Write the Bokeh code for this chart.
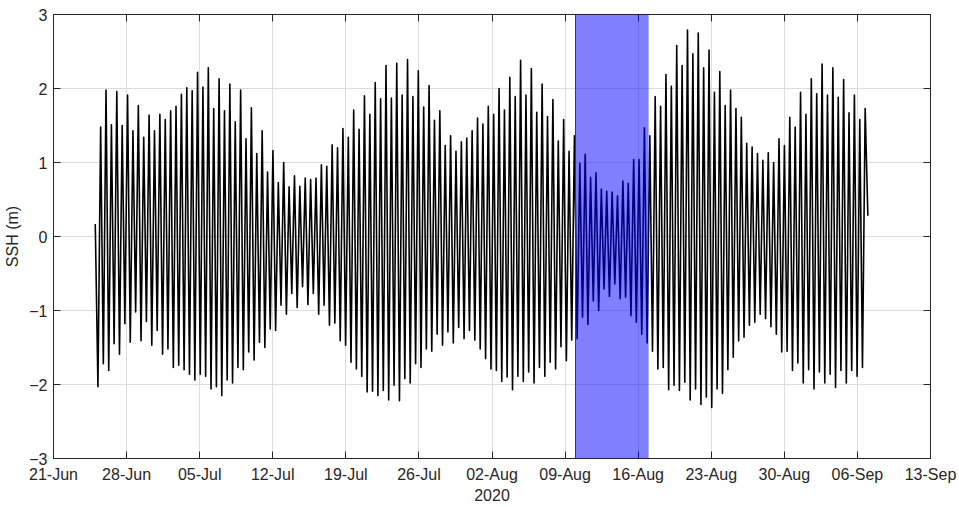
import pandas as pd
from bokeh.plotting import figure
from bokeh.models import (Range1d, FixedTicker, DatetimeTickFormatter, BoxAnnotation,
                          Span, LinearAxis, DatetimeAxis, ColumnDataSource)
from bokeh.embed import file_html
from bokeh.resources import INLINE

# ---------------- data ----------------
# Sea surface height (m): successive turning points (lows / highs) of the tidal record
record_start = "2020-06-25 00:00"
record_end = "2020-09-07 00:00"
ssh_m = [
    0.17,
    -2.03, 1.48, -1.72, 1.98, -1.81, 1.51, -1.45, 1.96, -1.59, 1.50, -1.18, 1.91, -1.43, 1.43,
    -1.02, 1.77, -1.41, 1.34, -1.15, 1.64, -1.47, 1.43, -1.27, 1.65, -1.59, 1.58, -1.52, 1.70,
    -1.77, 1.76, -1.74, 1.92, -1.80,
    2.01, -1.86, 1.97, -1.94, 2.22, -1.86, 2.02, -1.89, 2.28, -2.06, 1.73, -2.03, 2.13, -2.15,
    1.70, -1.94, 2.06, -1.98, 1.55, -1.77, 1.98, -1.80, 1.32, -1.56, 1.74, -1.67, 1.12, -1.43,
    1.43, -1.50, 0.87, -1.25, 1.16, -1.27, 0.73, -0.93,
    1.00, -1.05, 0.67, -0.77, 0.82, -0.96, 0.68, -0.68, 0.79, -0.92, 0.77, -0.77, 0.79, -1.05,
    0.97, -0.93, 0.95, -1.20, 1.24, -1.17, 1.20, -1.41, 1.46, -1.47, 1.34, -1.70, 1.71, -1.79,
    1.45, -1.89, 1.90, -2.10, 1.65, -2.09, 2.08,
    -2.15, 1.86, -2.08, 2.31, -2.21, 1.87, -2.01, 2.34, -2.22, 1.91, -1.92, 2.39, -1.98, 1.89,
    -1.72, 2.24, -1.77, 1.75, -1.52, 2.04, -1.55, 1.57, -1.32, 1.70, -1.47, 1.23, -1.29, 1.36,
    -1.44, 1.15, -1.23, 1.28, -1.38, 1.33, -1.27,
    1.43, -1.40, 1.60, -1.52, 1.52, -1.65, 1.76, -1.79, 1.65, -1.81, 2.00, -1.96, 1.71, -1.90,
    2.15, -2.07, 1.89, -1.89, 2.38, -1.96, 1.91, -1.83, 2.27, -1.98, 1.68, -1.77, 2.06, -1.89,
    1.62, -1.70, 1.85, -1.79, 1.29, -1.49, 1.58,
    -1.68, 1.15, -1.40, 1.36, -1.38, 0.99, -1.09, 1.11, -1.19, 0.80, -0.87, 0.86, -1.00, 0.64,
    -0.71, 0.61, -0.81, 0.60, -0.64, 0.55, -0.84, 0.75, -0.82, 0.72, -1.07, 1.04, -1.16, 1.04,
    -1.32, 1.47, -1.44, 1.36, -1.55, 1.89,
    -1.79, 1.76, -1.77, 2.19, -2.07, 2.03, -2.01, 2.58, -2.08, 2.31, -1.97, 2.79, -2.21, 2.47,
    -2.06, 2.75, -2.27, 2.28, -2.17, 2.52, -2.31, 1.95, -2.06, 2.23, -2.12, 1.77, -1.80, 1.98,
    -1.63, 1.73, -1.41, 1.61, -1.36, 1.26, -1.20, 1.21,
    -1.16, 1.12, -1.05, 1.03, -1.11, 1.13, -1.22, 1.00, -1.32, 1.32, -1.56, 1.23, -1.55, 1.61,
    -1.81, 1.48, -1.71, 1.95, -1.98, 1.65, -1.80, 2.13, -2.06, 1.93, -1.83, 2.33, -1.98, 1.91,
    -1.86, 2.28, -2.04, 1.88, -1.81, 2.12, -1.98, 1.67, -1.81, 1.91, -1.89, 1.58, -1.77, 1.73,
    0.28,
]

# highlighted window
window_start = "2020-08-10 00:00"
window_end = "2020-08-17 00:00"

# axes
x_start = "2020-06-21"
x_end = "2020-09-13"
tick_dates = ["2020-06-21", "2020-06-28", "2020-07-05", "2020-07-12", "2020-07-19",
              "2020-07-26", "2020-08-02", "2020-08-09", "2020-08-16", "2020-08-23",
              "2020-08-30", "2020-09-06", "2020-09-13"]
y_min, y_max = -3, 3
y_ticks = [-3, -2, -1, 0, 1, 2, 3]
x_label = "2020"
y_label = "SSH (m)"

# ---------------- build ----------------
def ms(s):
    return pd.Timestamp(s).value / 1e6

times = pd.date_range(record_start, record_end, periods=len(ssh_m))
src = ColumnDataSource(dict(t=times, ssh=ssh_m))

FONT = "Liberation Sans"
TXT = "#262626"

p = figure(width=959, height=507, x_axis_type="datetime",
           x_range=Range1d(ms(x_start), ms(x_end)), y_range=Range1d(y_min, y_max),
           output_backend="svg", toolbar_location=None,
           min_border_left=53, min_border_right=29, min_border_top=14, min_border_bottom=49)
p.background_fill_color = "white"
p.border_fill_color = "white"
p.outline_line_color = TXT
p.outline_line_width = 1

xticker = FixedTicker(ticks=[ms(d) for d in tick_dates])
fmt = "%d-%b"
xfmt = DatetimeTickFormatter(microseconds=fmt, milliseconds=fmt, seconds=fmt, minsec=fmt,
                             minutes=fmt, hourmin=fmt, hours=fmt, days=fmt, months=fmt, years=fmt)
yticker = FixedTicker(ticks=y_ticks)

p.xaxis.ticker = xticker
p.xaxis.formatter = xfmt
p.yaxis.ticker = yticker
p.xaxis.axis_label = x_label
p.yaxis.axis_label = y_label

for ax in (p.xaxis[0], p.yaxis[0]):
    ax.major_tick_in = 7
    ax.major_tick_out = 0
    ax.minor_tick_in = 0
    ax.minor_tick_out = 0
    ax.axis_line_color = TXT
    ax.major_tick_line_color = TXT
    ax.major_label_text_font = FONT
    ax.major_label_text_font_size = "16px"
    ax.major_label_text_color = TXT
    ax.axis_label_text_font = FONT
    ax.axis_label_text_font_size = "16px"
    ax.axis_label_text_font_style = "normal"
    ax.axis_label_text_color = TXT

p.xaxis.major_label_standoff = 7
p.xaxis.axis_label_standoff = 3
p.yaxis.major_label_standoff = 6
p.yaxis.axis_label_standoff = 5

# mirrored tick marks on top and right (labels not drawn)
top = DatetimeAxis(ticker=xticker, formatter=xfmt, major_tick_in=7, major_tick_out=0,
                   minor_tick_in=0, minor_tick_out=0, major_label_text_font_size="1px",
                   major_label_text_color=None, major_label_standoff=0,
                   axis_line_color=TXT, major_tick_line_color=TXT)
right = LinearAxis(ticker=yticker, major_tick_in=7, major_tick_out=0,
                   minor_tick_in=0, minor_tick_out=0, major_label_text_font_size="1px",
                   major_label_text_color=None, major_label_standoff=0,
                   axis_line_color=TXT, major_tick_line_color=TXT)
p.add_layout(top, "above")
p.add_layout(right, "right")

p.xgrid.ticker = xticker
p.ygrid.ticker = yticker
for g in (p.xgrid[0], p.ygrid[0]):
    g.grid_line_color = "#dcdcdc"
    g.grid_line_width = 1

p.line("t", "ssh", source=src, line_color="black", line_width=1.6, line_join="round")

band = BoxAnnotation(left=ms(window_start), right=ms(window_end),
                     fill_color="#0000FF", fill_alpha=0.5, line_color=None)
p.add_layout(band)
p.add_layout(Span(location=ms(window_start), dimension="height",
                  line_color="#3a3a3a", line_width=1))

open("out.html", "w").write(file_html(p, INLINE))
